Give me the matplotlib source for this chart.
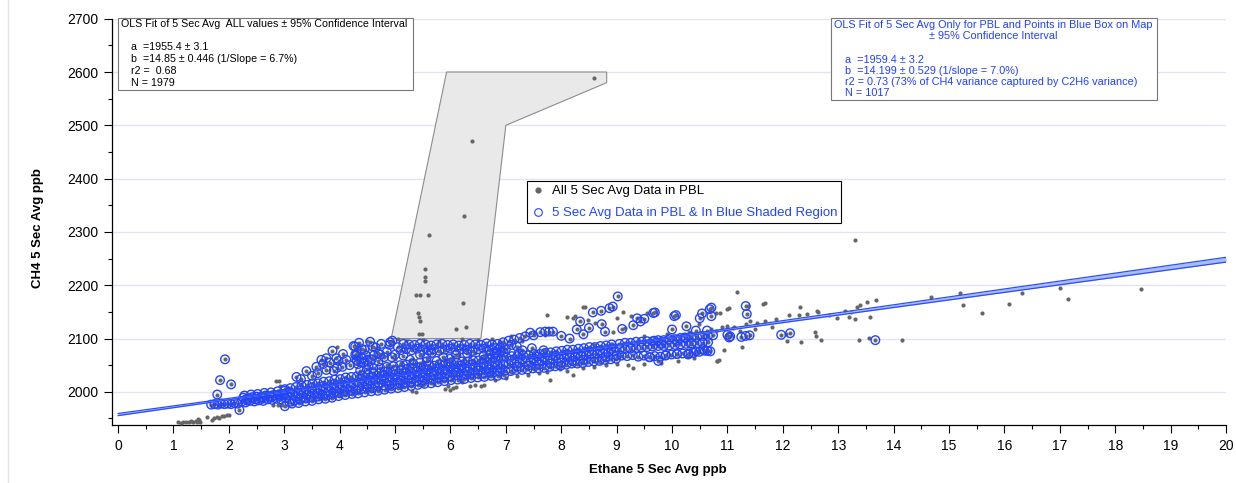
import matplotlib
matplotlib.use("Agg")
import matplotlib.pyplot as plt
from matplotlib.patches import Polygon, Rectangle
from matplotlib.lines import Line2D
from matplotlib.ticker import MultipleLocator
import numpy as np

plt.rcParams['font.family'] = ['Liberation Sans', 'DejaVu Sans']

# fit coefficients (from the annotation boxes)
a_all, b_all = 1955.4, 14.85
a_box, b_box = 1959.4, 14.199

# grey selection polygon drawn on the plot
poly_x = [4.93, 5.93, 8.82, 8.82, 7.00, 6.55]
poly_y = [2100, 2600, 2600, 2580, 2500, 2100]

# ---- points that are only in "All 5 Sec Avg Data in PBL" (grey dots) ----
gray_tail = [(1.08, 1943), (1.13, 1942), (1.18, 1943), (1.23, 1944), (1.28, 1943), (1.32, 1945),
             (1.36, 1944), (1.40, 1946), (1.43, 1943), (1.46, 1947), (1.48, 1944), (1.45, 1949),
             (1.60, 1952), (1.69, 1948), (1.74, 1950), (1.78, 1952), (1.83, 1951), (1.87, 1954),
             (1.92, 1955), (1.96, 1956), (2.01, 1957)]
gray_poly = [(8.60, 2589), (6.38, 2471), (6.25, 2329), (5.61, 2295), (5.54, 2230), (5.54, 2216),
             (5.54, 2208), (5.37, 2181), (5.45, 2181), (5.59, 2181), (6.22, 2167), (5.42, 2148),
             (5.44, 2140), (5.45, 2132), (6.10, 2117), (6.28, 2121), (5.44, 2108), (5.48, 2108)]
gray_low = [(2.80, 1975), (2.88, 1976), (2.95, 1975), (2.85, 2021), (2.90, 2020), (2.92, 2011),
            (3.30, 1983), (3.50, 1988), (3.70, 1990), (3.90, 1994), (4.10, 1997), (4.30, 2000),
            (4.50, 2003), (4.70, 2005), (4.90, 2008), (5.10, 2010), (5.30, 2001), (5.38, 2000),
            (5.50, 2012), (5.70, 2014), (5.90, 2006), (6.00, 2004), (6.05, 2008), (6.10, 2010),
            (5.95, 2011), (6.20, 2018), (6.36, 2011), (6.45, 2012), (6.55, 2011), (6.60, 2013),
            (6.80, 2022), (7.00, 2026), (7.20, 2030), (7.40, 2032), (7.60, 2035), (7.74, 2038),
            (7.80, 2022), (7.98, 2042), (8.10, 2040), (8.22, 2032), (8.40, 2045), (8.60, 2047),
            (8.80, 2050), (9.00, 2052), (9.20, 2050), (9.30, 2045), (9.50, 2053), (9.80, 2055),
            (10.10, 2058), (10.40, 2063), (10.82, 2057), (10.84, 2060), (3.60, 1998), (4.00, 2002),
            (4.40, 2010), (4.80, 2015), (5.20, 2018), (6.30, 2028), (6.70, 2030), (7.10, 2038),
            (7.50, 2042), (7.90, 2048), (8.30, 2052), (8.70, 2056)]
gray_eye = [(5.10, 2055), (5.30, 2062), (5.50, 2055), (5.70, 2050), (5.90, 2058), (6.05, 2065),
            (6.15, 2070), (6.25, 2062), (6.35, 2068), (6.45, 2072), (6.55, 2064), (6.65, 2070),
            (6.75, 2066), (5.20, 2045), (5.60, 2048), (6.10, 2056), (4.85, 2050), (5.00, 2062)]
gray_above = [(5.05, 2100), (5.20, 2095), (5.50, 2098), (5.80, 2096), (6.20, 2100), (6.50, 2098),
              (6.75, 2100), (6.90, 2094), (7.10, 2105), (7.30, 2095), (7.50, 2110), (7.70, 2107),
              (6.95, 2085), (4.50, 2095), (3.95, 2085)]
gray_line = [(9.20, 2092), (9.40, 2095), (9.60, 2098), (9.80, 2100), (10.00, 2103), (10.20, 2106),
             (10.40, 2108), (10.60, 2111), (10.80, 2114), (11.00, 2117), (11.10, 2120), (9.50, 2104),
             (9.90, 2108), (10.30, 2112), (10.70, 2118), (10.90, 2122), (8.60, 2088), (8.90, 2090)]
gray_upper = [(7.74, 2144), (8.10, 2141), (8.22, 2138), (8.40, 2160), (8.25, 2143), (8.49, 2135),
              (8.61, 2130), (8.94, 2112), (9.15, 2119), (9.00, 2138), (9.11, 2149), (9.25, 2142),
              (9.55, 2147), (10.48, 2128), (10.87, 2147), (11.02, 2157), (10.80, 2147), (8.43, 2160)]
gray_right = [(11.17, 2187), (11.68, 2166), (12.31, 2159), (12.61, 2152), (11.00, 2155), (11.37, 2161),
              (11.64, 2165), (11.00, 2124), (11.40, 2133), (11.67, 2133), (11.88, 2136), (12.12, 2144),
              (12.29, 2144), (12.43, 2146), (12.64, 2149), (12.84, 2144), (12.98, 2139), (13.12, 2152),
              (11.22, 2115), (11.50, 2118), (11.81, 2121), (11.12, 2121), (11.33, 2127), (11.53, 2130),
              (13.69, 2172), (13.52, 2168), (13.39, 2163), (13.33, 2160), (13.23, 2149), (13.19, 2140),
              (13.31, 2137), (13.57, 2141), (13.37, 2098), (13.55, 2101), (14.16, 2097), (12.68, 2098),
              (12.58, 2112), (12.59, 2105), (12.33, 2093), (12.08, 2095), (12.06, 2108), (11.26, 2085),
              (10.93, 2079), (10.82, 2057), (13.30, 2284), (14.68, 2177), (15.20, 2185), (15.25, 2162),
              (15.60, 2147), (16.08, 2164), (16.31, 2186), (17.01, 2194), (17.14, 2174), (18.47, 2193)]

# ---- points in PBL & blue shaded region (blue open circles) ----
blue_tail = [(1.68, 1976), (1.74, 1977), (1.80, 1976), (1.86, 1978), (1.92, 1977), (1.98, 1978),
             (2.04, 1977), (2.10, 1979), (2.16, 1978), (1.79, 1995), (1.84, 2022), (1.93, 2061),
             (2.04, 2014), (2.19, 1966), (3.01, 1973)]

band_b_x1 = [2.22, 2.30, 2.38, 2.46, 2.54, 2.62, 2.70, 2.78, 2.86, 2.94, 3.02]
band_b_y1 = [1981, 1980, 1983, 1982, 1984, 1983, 1986, 1985, 1987, 1986, 1989]
band_b_x2 = [2.26, 2.34, 2.42, 2.50, 2.58, 2.66, 2.74, 2.82, 2.90, 2.98]
band_b_y2 = [1989, 1987, 1990, 1991, 1990, 1993, 1992, 1994, 1995, 1996]
band_b_x3 = [2.33, 2.47, 2.61, 2.77, 2.93]
band_b_y3 = [1984, 1986, 1988, 1990, 1992]
band_b_x4 = [2.28, 2.40, 2.52, 2.64, 2.76, 2.88, 3.00]
band_b_y4 = [1993, 1995, 1996, 1998, 1999, 2001, 2002]

band_c_x_mid = [3.05, 3.15, 3.25, 3.35, 3.45, 3.55, 3.65, 3.75, 3.85, 3.95, 4.05, 4.15, 4.25]
band_c_y_mid = [1993, 1996, 1997, 2000, 2001, 2004, 2004, 2007, 2008, 2011, 2012, 2015, 2016]
band_c_x_low = [3.09, 3.19, 3.29, 3.39, 3.49, 3.59, 3.69, 3.79, 3.89, 3.99, 4.09, 4.19, 4.29]
band_c_y_low = [1981, 1984, 1986, 1988, 1990, 1991, 1994, 1994, 1997, 1998, 2001, 2002, 2004]
band_c_x_high = [3.01, 3.11, 3.21, 3.31, 3.41, 3.51, 3.61, 3.71, 3.81, 3.91, 4.01, 4.11, 4.21]
band_c_y_high = [2005, 2007, 2009, 2012, 2013, 2016, 2016, 2019, 2020, 2023, 2024, 2027, 2028]
band_c_x_q = [3.10, 3.20, 3.30, 3.40, 3.50, 3.60, 3.70, 3.80, 3.90, 4.00, 4.10, 4.20]
band_c_y_q = [2000, 1990, 2004, 1994, 2008, 1997, 2011, 2001, 2015, 2005, 2019, 2009]
band_c_x_low2 = [3.14, 3.26, 3.38, 3.50, 3.62, 3.74, 3.86, 3.98, 4.10, 4.22]
band_c_y_low2 = [1978, 1979, 1982, 1983, 1986, 1987, 1989, 1992, 1994, 1996]

band_d_x_mid = [4.35, 4.45, 4.55, 4.65, 4.75, 4.85, 4.95, 5.05, 5.15, 5.25, 5.35, 5.45, 5.55, 5.65,
                5.75, 5.85, 5.95, 6.05, 6.15, 6.25, 6.35, 6.45, 6.55, 6.65, 6.75, 6.85, 6.95]
band_d_y_mid = [2017, 2020, 2020, 2023, 2023, 2026, 2026, 2028, 2029, 2031, 2032, 2034, 2035, 2037,
                2038, 2040, 2041, 2043, 2043, 2045, 2045, 2047, 2047, 2049, 2049, 2051, 2051]
band_d_x_low = [4.39, 4.49, 4.59, 4.69, 4.79, 4.89, 4.99, 5.09, 5.19, 5.29, 5.39, 5.49, 5.59, 5.69,
                5.79, 5.89, 5.99, 6.09, 6.19, 6.29, 6.39, 6.49, 6.59, 6.69, 6.79, 6.89, 6.99]
band_d_y_low = [2005, 2008, 2007, 2010, 2012, 2013, 2014, 2016, 2017, 2018, 2020, 2021, 2024, 2024,
                2026, 2027, 2029, 2031, 2031, 2032, 2034, 2034, 2035, 2037, 2037, 2038, 2040]
band_d_x_high = [4.31, 4.41, 4.51, 4.61, 4.71, 4.81, 4.91, 5.01, 5.11, 5.21, 5.31, 5.41, 5.51, 5.61,
                 5.71, 5.81, 5.91, 6.01, 6.11, 6.21, 6.31, 6.41, 6.51, 6.61, 6.71, 6.81, 6.91]
band_d_y_high = [2029, 2031, 2032, 2035, 2035, 2038, 2038, 2041, 2041, 2043, 2044, 2046, 2046, 2049,
                 2049, 2052, 2053, 2055, 2055, 2057, 2057, 2059, 2059, 2061, 2061, 2063, 2063]
band_d_x_q = [4.40, 4.50, 4.60, 4.70, 4.80, 4.90, 5.00, 5.10, 5.20, 5.30, 5.40, 5.50, 5.60,
              5.70, 5.80, 5.90, 6.00, 6.10, 6.20, 6.30, 6.40, 6.50, 6.60, 6.70, 6.80, 6.90]
band_d_y_q = [2025, 2013, 2028, 2016, 2031, 2019, 2033, 2021, 2036, 2024, 2039, 2027, 2042,
              2030, 2045, 2033, 2048, 2036, 2050, 2038, 2052, 2040, 2054, 2042, 2056, 2044]
band_d_x_low2 = [4.33, 4.45, 4.57, 4.69, 4.81, 4.93, 5.05, 5.17, 5.29, 5.41, 5.53, 5.65,
                 5.77, 5.89, 6.01, 6.13, 6.25, 6.37, 6.49, 6.61, 6.73, 6.85, 6.97]
band_d_y_low2 = [1997, 1999, 2001, 2002, 2004, 2006, 2007, 2009, 2011, 2013, 2015, 2016,
                 2018, 2020, 2022, 2023, 2024, 2026, 2027, 2028, 2030, 2030, 2032]
band_d_x_high2 = [4.37, 4.49, 4.61, 4.73, 4.85, 4.97, 5.09, 5.21, 5.33, 5.45, 5.57, 6.72, 6.84, 6.96]
band_d_y_high2 = [2040, 2042, 2044, 2045, 2047, 2048, 2050, 2051, 2053, 2055, 2057, 2071, 2073, 2074]

band_e_x_mid = [7.05, 7.15, 7.25, 7.35, 7.45, 7.55, 7.65, 7.75, 7.85, 7.95,
                8.05, 8.15, 8.25, 8.35, 8.45, 8.55, 8.65, 8.75, 8.85, 8.95]
band_e_y_mid = [2052, 2054, 2054, 2056, 2056, 2058, 2058, 2060, 2061, 2063,
                2064, 2066, 2066, 2068, 2069, 2071, 2071, 2073, 2074, 2076]
band_e_x_low = [7.09, 7.19, 7.29, 7.39, 7.49, 7.59, 7.69, 7.79, 7.89, 7.99,
                8.09, 8.19, 8.29, 8.39, 8.49, 8.59, 8.69, 8.79, 8.89, 8.99]
band_e_y_low = [2039, 2041, 2041, 2042, 2044, 2044, 2045, 2047, 2048, 2049,
                2051, 2053, 2053, 2054, 2056, 2057, 2058, 2060, 2061, 2062]
band_e_x_high = [7.01, 7.11, 7.21, 7.31, 7.41, 7.51, 7.61, 7.71, 7.81, 7.91,
                 8.01, 8.11, 8.21, 8.31, 8.41, 8.51, 8.61, 8.71, 8.81, 8.91]
band_e_y_high = [2065, 2067, 2067, 2069, 2069, 2071, 2071, 2073, 2074, 2076,
                 2077, 2079, 2079, 2081, 2082, 2084, 2084, 2086, 2087, 2089]
band_e_x_q = [7.10, 7.20, 7.30, 7.40, 7.50, 7.60, 7.70, 7.80, 7.90, 8.00,
              8.10, 8.20, 8.30, 8.40, 8.50, 8.60, 8.70, 8.80, 8.90, 9.00]
band_e_y_q = [2059, 2047, 2061, 2049, 2063, 2051, 2065, 2053, 2068, 2055,
              2071, 2058, 2073, 2060, 2076, 2063, 2078, 2065, 2081, 2068]

band_f_x = [9.05, 9.15, 9.25, 9.35, 9.45, 9.55, 9.65, 9.75, 9.85, 9.95,
            10.05, 10.15, 10.25, 10.35, 10.45, 10.55, 10.65]
band_f_y_up = [2090, 2092, 2092, 2094, 2094, 2095, 2095, 2097, 2097, 2099,
               2099, 2101, 2101, 2103, 2103, 2105, 2105]
band_f_y_mid = [2079, 2080, 2081, 2082, 2083, 2084, 2085, 2086, 2086, 2087,
                2088, 2089, 2090, 2091, 2091, 2092, 2093]
band_f_x_low = [9.09, 9.19, 9.29, 9.39, 9.49, 9.59, 9.69, 9.79, 9.89, 9.99,
                10.09, 10.19, 10.29, 10.39, 10.49, 10.59, 10.69]
band_f_y_low = [2068, 2067, 2069, 2066, 2068, 2065, 2067, 2066, 2069, 2070,
                2071, 2072, 2070, 2073, 2075, 2077, 2076]

band_g_x1 = [4.25, 4.35, 4.45, 4.55, 4.65, 4.75, 4.85, 4.95, 5.05, 5.15, 5.25, 5.35, 5.45, 5.55,
             5.65, 5.75, 5.85, 5.95, 6.05, 6.15, 6.25, 6.35, 6.45, 6.55, 6.65, 6.75, 6.85]
band_g_y1 = [2086, 2092, 2079, 2094, 2083, 2090, 2075, 2096, 2084, 2090, 2089, 2088, 2090, 2089,
             2087, 2089, 2090, 2088, 2089, 2087, 2088, 2090, 2089, 2088, 2091, 2089, 2090]
band_g_x2 = [4.30, 4.40, 4.50, 4.60, 4.70, 4.80, 4.90, 5.00, 5.10, 5.20, 5.30, 5.40, 5.50, 5.60,
             5.70, 5.80, 5.90, 6.00, 6.10, 6.20, 6.30, 6.40, 6.50, 6.60, 6.70, 6.80, 6.90]
band_g_y2 = [2068, 2080, 2060, 2085, 2072, 2065, 2088, 2070, 2078, 2080, 2078, 2081, 2079, 2078,
             2080, 2077, 2079, 2081, 2078, 2080, 2079, 2077, 2080, 2081, 2079, 2082, 2083]

blue_bump = [(3.22, 2028), (3.40, 2039), (3.58, 2047), (3.67, 2060), (3.76, 2063), (3.87, 2077),
             (3.94, 2063), (4.06, 2071), (4.05, 2047), (3.89, 2039), (3.76, 2041), (4.28, 2085),
             (4.31, 2072), (4.31, 2058), (3.70, 2052), (3.82, 2055), (3.98, 2058), (4.12, 2060),
             (3.60, 2035), (3.95, 2045), (4.18, 2050), (3.50, 2030), (3.30, 2024)]
blue_mid = [(4.28, 2070), (4.30, 2060), (4.33, 2052), (4.40, 2063), (4.43, 2055), (4.48, 2068),
            (4.52, 2050), (4.58, 2061), (4.61, 2068), (4.70, 2057), (4.73, 2070), (4.91, 2093),
            (4.94, 2065), (5.15, 2068), (5.27, 2060), (5.45, 2070), (5.57, 2064), (5.66, 2073),
            (5.75, 2058), (5.87, 2065), (5.99, 2062), (6.10, 2070), (6.30, 2072), (6.60, 2068),
            (6.80, 2072)]
blue_join = [(6.95, 2093), (7.05, 2096), (7.15, 2098), (7.25, 2101), (7.35, 2104), (7.44, 2111),
             (7.50, 2106), (7.62, 2112), (7.71, 2113), (7.78, 2113), (7.85, 2113), (7.20, 2085),
             (7.23, 2072), (7.30, 2078), (7.47, 2082), (7.56, 2066), (7.68, 2078), (7.00, 2080),
             (6.90, 2075), (7.10, 2088)]
blue_upper = [(8.57, 2149), (8.72, 2152), (8.87, 2157), (8.93, 2160), (9.02, 2179), (9.37, 2138),
              (9.43, 2132), (9.69, 2149), (10.07, 2144), (10.54, 2147), (10.71, 2158), (10.71, 2142),
              (8.34, 2132), (8.73, 2127), (8.79, 2113), (8.28, 2117), (8.50, 2120), (9.10, 2118),
              (9.30, 2125), (9.66, 2148), (10.04, 2142), (10.50, 2138), (10.68, 2155), (10.26, 2123),
              (10.00, 2117), (10.43, 2115), (10.63, 2115), (10.23, 2102), (10.09, 2096), (9.81, 2090),
              (9.68, 2096), (9.50, 2137), (8.00, 2105), (8.15, 2100), (8.40, 2108)]
blue_right = [(11.33, 2161), (11.35, 2146), (11.03, 2102), (10.74, 2106), (11.25, 2103), (11.33, 2105),
              (11.40, 2106), (11.97, 2107), (12.13, 2110), (13.67, 2097), (11.00, 2107), (11.05, 2104),
              (10.35, 2090), (10.64, 2077), (10.56, 2080), (10.43, 2076), (10.30, 2072), (10.09, 2071),
              (9.88, 2068), (9.75, 2058), (9.60, 2065)]

blue_rows = [(band_b_x1, band_b_y1), (band_b_x2, band_b_y2), (band_b_x3, band_b_y3),
             (band_b_x4, band_b_y4),
             (band_c_x_mid, band_c_y_mid), (band_c_x_low, band_c_y_low), (band_c_x_high, band_c_y_high),
             (band_c_x_q, band_c_y_q), (band_c_x_low2, band_c_y_low2),
             (band_d_x_mid, band_d_y_mid), (band_d_x_low, band_d_y_low), (band_d_x_high, band_d_y_high),
             (band_d_x_q, band_d_y_q), (band_d_x_low2, band_d_y_low2), (band_d_x_high2, band_d_y_high2),
             (band_e_x_mid, band_e_y_mid), (band_e_x_low, band_e_y_low), (band_e_x_high, band_e_y_high),
             (band_e_x_q, band_e_y_q),
             (band_f_x, band_f_y_up), (band_f_x, band_f_y_mid), (band_f_x_low, band_f_y_low),
             (band_g_x1, band_g_y1), (band_g_x2, band_g_y2)]
blue_pts = blue_tail + blue_bump + blue_mid + blue_join + blue_upper + blue_right
for xs_, ys_ in blue_rows:
    blue_pts += list(zip(xs_, ys_))
gray_pts = gray_tail + gray_poly + gray_low + gray_eye + gray_above + gray_line + gray_upper + gray_right
all_pts = gray_pts + blue_pts

blue_x, blue_y = np.array(blue_pts).T
all_x, all_y = np.array(all_pts).T

W, H = 1236, 483
fig = plt.figure(figsize=(W / 100, H / 100), dpi=100)
ax = fig.add_axes([112 / W, 58 / H, 1114 / W, 406.3 / H])

ax.add_patch(Polygon(list(zip(poly_x, poly_y)), closed=True, fc='#e9e9e9', ec='#8c8c8c', lw=0.8, zorder=1))

ax.scatter(all_x, all_y, s=9, c='#666666', lw=0, zorder=3)
ax.scatter(blue_x, blue_y, s=38, facecolors='none', edgecolors='#2244ff', lw=1.0, zorder=3.5)

fx = np.array([0, 20])
fy_all = a_all + b_all * fx
fy_box = a_box + b_box * fx
ax.fill_between(fx, fy_all, fy_box, color='#a9bcf7', lw=0, zorder=4)
ax.plot(fx, fy_all, color='#2a4cff', lw=0.9, zorder=4.5)
ax.plot(fx, fy_box, color='#2a4cff', lw=0.9, zorder=4.5)

ax.set_xlim(-0.11, 20)
ax.set_ylim(1937.8, 2700)
ax.set_xticks(range(0, 21))
ax.set_yticks(range(2000, 2701, 100))
ax.xaxis.set_minor_locator(MultipleLocator(0.5))
ax.yaxis.set_minor_locator(MultipleLocator(50))
ax.tick_params(which='major', length=6, width=0.8, labelsize=10, pad=4)
ax.tick_params(which='minor', length=3, width=0.8)
ax.yaxis.grid(True, which='major', color='#e2e2fa', lw=1)
ax.set_axisbelow(True)
for s in ['top', 'right']:
    ax.spines[s].set_visible(False)
for s in ['left', 'bottom']:
    ax.spines[s].set_linewidth(0.9)

fig.text(658 / W, 1 - 470 / H, 'Ethane 5 Sec Avg ppb', ha='center', va='center',
         fontsize=9.5, fontweight='bold')
fig.text(38 / W, 1 - 228 / H, 'CH4 5 Sec Avg ppb', ha='center', va='center',
         rotation=90, fontsize=9.5, fontweight='bold')

handles = [Line2D([], [], ls='none', marker='o', ms=4.5, mfc='#666666', mec='none'),
           Line2D([], [], ls='none', marker='o', ms=5.5, mfc='none', mec='#2244ff', mew=0.8)]
leg = ax.legend(handles, ['All 5 Sec Avg Data in PBL', '5 Sec Avg Data in PBL & In Blue Shaded Region'],
                loc='upper left', bbox_to_anchor=(0.3725, 0.6005), fontsize=9.5, frameon=True,
                fancybox=False, framealpha=1, edgecolor='black', borderpad=0.3, labelspacing=0.75,
                handlelength=1.0, handletextpad=0.6, borderaxespad=0)
leg.get_frame().set_linewidth(0.8)
leg.get_texts()[1].set_color('#2244ff')

# annotation box 1 (all values)
fig.add_artist(Rectangle((118 / W, 1 - 90 / H), 295 / W, 72 / H, transform=fig.transFigure,
                         fc='white', ec='#777777', lw=0.8, zorder=5))
fig.text(121 / W, 1 - 24 / H, 'OLS Fit of 5 Sec Avg  ALL values \u00b1 95% Confidence Interval',
         fontsize=7.7, va='center', zorder=6)
box1_lines = ['a  =1955.4 \u00b1 3.1', 'b  =14.85 \u00b1 0.446 (1/Slope = 6.7%)', 'r2 =  0.68', 'N = 1979']
for i, t in enumerate(box1_lines):
    fig.text(131 / W, 1 - (47 + 12 * i) / H, t, fontsize=7.7, va='center', zorder=6)

# annotation box 2 (PBL + blue box)
blue_txt = '#1f3fff'
fig.add_artist(Rectangle((831 / W, 1 - 100 / H), 326 / W, 82 / H, transform=fig.transFigure,
                         fc='white', ec='#777777', lw=0.8, zorder=5))
fig.text(993 / W, 1 - 25 / H, 'OLS Fit of 5 Sec Avg Only for PBL and Points in Blue Box on Map',
         fontsize=7.8, ha='center', va='center', color=blue_txt, zorder=6)
fig.text(993 / W, 1 - 36 / H, '\u00b1 95% Confidence Interval',
         fontsize=7.8, ha='center', va='center', color=blue_txt, zorder=6)
box2_lines = ['a  =1959.4 \u00b1 3.2', 'b  =14.199 \u00b1 0.529 (1/slope = 7.0%)',
              'r2 = 0.73 (73% of CH4 variance captured by C2H6 variance)', 'N = 1017']
for i, t in enumerate(box2_lines):
    fig.text(845 / W, 1 - (60 + 11 * i) / H, t, fontsize=7.8, va='center', color=blue_txt, zorder=6)

fig.add_artist(Line2D([8 / W, 8 / W], [0, 1], transform=fig.transFigure, color='#e4e4e4', lw=1))

fig.savefig('out.png', dpi=100)
